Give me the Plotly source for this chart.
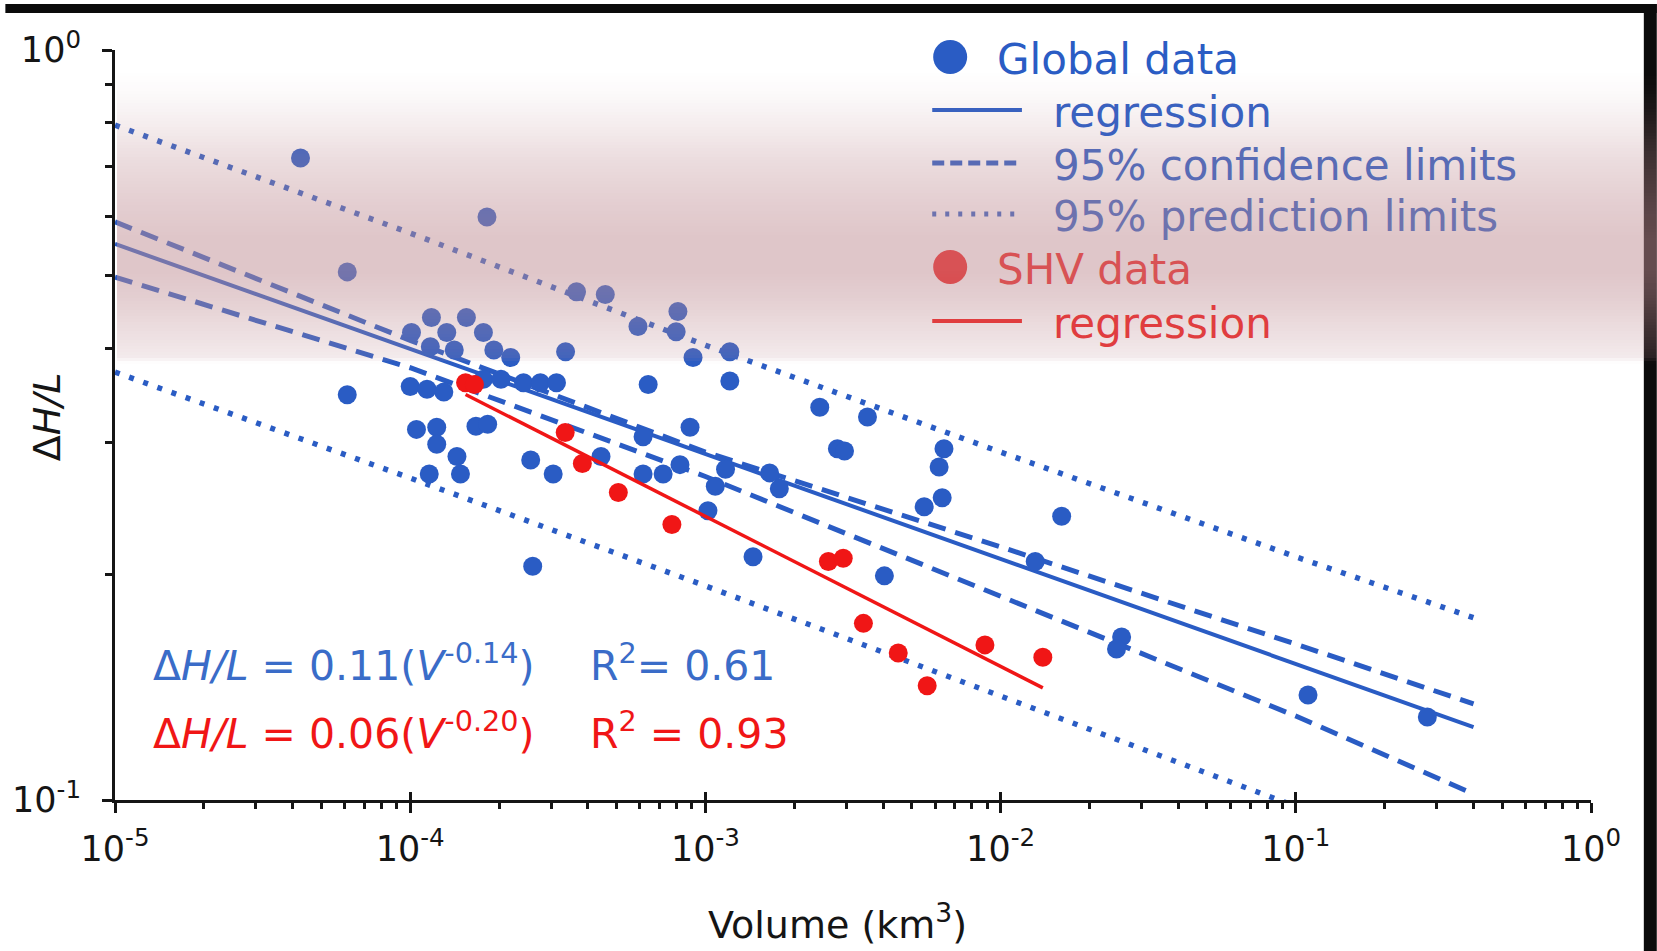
import numpy as np
import plotly.graph_objects as go

# ---------------------------------------------------------------------------
# Data: landslide volume (km^3) against travel-angle ratio ΔH/L
# ---------------------------------------------------------------------------
global_volume = [
    4.25e-5, 1.82e-4, 6.12e-5, 6.12e-5, 3.66e-4, 4.58e-4, 5.91e-4, 8.07e-4,
    7.96e-4, 3.36e-4, 9.08e-4, 1.21e-3, 6.40e-4, 1.21e-3, 2.44e-3, 3.54e-3,
    8.87e-4, 2.80e-3, 2.96e-3, 6.43e-3, 6.19e-3, 6.34e-3, 5.51e-3, 1.61e-2,
    1.31e-2, 4.04e-3, 1.45e-3, 2.60e-4, 1.02e-3, 2.57e-2, 2.47e-2, 0.110,
    0.279,
    1.18e-4, 1.55e-4, 1.01e-4, 1.33e-4, 1.77e-4, 1.17e-4, 1.41e-4, 1.92e-4,
    2.19e-4, 1.00e-4, 1.14e-4, 1.30e-4, 1.77e-4, 2.03e-4, 2.42e-4, 2.76e-4,
    3.13e-4, 1.05e-4, 1.23e-4, 1.23e-4, 1.67e-4, 1.83e-4, 1.44e-4, 1.48e-4,
    1.16e-4, 2.56e-4, 3.05e-4, 4.43e-4, 6.15e-4, 7.19e-4, 8.20e-4, 1.08e-3,
    1.17e-3, 1.65e-3, 1.78e-3, 6.15e-4,
]
global_ratio = [
    0.718, 0.599, 0.506, 0.347, 0.476, 0.472, 0.428, 0.448,
    0.421, 0.396, 0.389, 0.396, 0.358, 0.362, 0.334, 0.324,
    0.314, 0.294, 0.292, 0.294, 0.278, 0.253, 0.246, 0.239,
    0.208, 0.199, 0.211, 0.205, 0.243, 0.165, 0.159, 0.138,
    0.129,
    0.440, 0.440, 0.420, 0.420, 0.420, 0.402, 0.398, 0.398,
    0.389, 0.356, 0.353, 0.350, 0.364, 0.364, 0.360, 0.360,
    0.360, 0.312, 0.314, 0.298, 0.315, 0.317, 0.287, 0.272,
    0.272, 0.284, 0.272, 0.287, 0.272, 0.272, 0.280, 0.262,
    0.276, 0.273, 0.260, 0.305,
]

shv_volume = [1.54e-4, 1.65e-4, 3.35e-4, 3.83e-4, 5.07e-4, 7.70e-4, 2.61e-3,
              2.93e-3, 3.43e-3, 4.50e-3, 5.64e-3, 8.85e-3, 1.39e-2]
shv_ratio = [0.360, 0.358, 0.309, 0.281, 0.257, 0.233, 0.208,
             0.210, 0.172, 0.157, 0.142, 0.161, 0.155]

# Power-law fits ΔH/L = a * V^b
global_coef, global_exp, global_r2 = 0.11, -0.14, 0.61
shv_coef, shv_exp, shv_r2 = 0.06, -0.20, 0.93

# 95 % confidence / prediction limits of the global fit
limit_volume = [1e-5, 1e-4, 1e-3, 1e-2, 1e-1, 0.40]
conf_upper = [0.590, 0.410, 0.291, 0.2175, 0.1614, 0.1343]
conf_lower = [0.498, 0.377, 0.270, 0.187, 0.1294, 0.1019]
pred_upper = [0.794, 0.570, 0.404, 0.291, 0.211, 0.175]
pred_lower = [0.372, 0.2687, 0.193, 0.1376, 0.0979, 0.080]

x_decades = [1e-5, 1e-4, 1e-3, 1e-2, 1e-1, 1e0]
x_ticktext = ["10<sup>-5</sup>", "10<sup>-4</sup>", "10<sup>-3</sup>",
              "10<sup>-2</sup>", "10<sup>-1</sup>", "10<sup>0</sup>"]
y_decades = [1e-1, 1e0]
y_ticktext = ["10<sup>-1</sup>", "10<sup>0</sup>"]

# ---------------------------------------------------------------------------
# Styling
# ---------------------------------------------------------------------------
FONT = "DejaVu Sans"
W, H = 1657, 951
ML, MR, MT, MB = 110, 66, 50, 151
PW, PH = W - ML - MR, H - MT - MB
BLUE = (42, 92, 196)
RED = (240, 22, 22)
INK = "#151515"


def rgb(c):
    return "rgb(%d,%d,%d)" % c


def px_x(x):
    return (x - ML) / PW


def px_y(y):
    return (H - MB - y) / PH


# soft horizontal highlight band across the upper part of the figure
BAND_RGB = (191, 141, 147)
BAND_Y = [70, 92, 120, 160, 200, 238, 272, 300, 328, 348, 357, 363]
BAND_A = [0.0, 0.04, 0.14, 0.30, 0.42, 0.50, 0.50, 0.42, 0.30, 0.22, 0.18, 0.0]


def band_alpha(y):
    return float(np.interp(y, BAND_Y, BAND_A))


def faded(c, y):
    a = band_alpha(y)
    return "rgb(%d,%d,%d)" % tuple(round(a * b + (1 - a) * v) for b, v in zip(BAND_RGB, c))


minor_x = [k * d for d in x_decades[:-1] for k in range(2, 10)]
minor_y = [k * 0.1 for k in range(2, 10)]

fig = go.Figure()

line_blue = rgb(BLUE)
for ys in (pred_upper, pred_lower):
    fig.add_trace(go.Scatter(x=limit_volume, y=ys, mode="lines",
                             line=dict(color=line_blue, width=5.5, dash="5px,10px")))
for ys in (conf_upper, conf_lower):
    fig.add_trace(go.Scatter(x=limit_volume, y=ys, mode="lines",
                             line=dict(color=line_blue, width=5, dash="18px,10px")))

fit_x = [limit_volume[0], limit_volume[-1]]
fig.add_trace(go.Scatter(x=fit_x, y=[global_coef * v ** global_exp for v in fit_x],
                         mode="lines", line=dict(color=line_blue, width=4)))

fig.add_trace(go.Scatter(x=global_volume, y=global_ratio, mode="markers",
                         marker=dict(color=line_blue, size=19, line=dict(width=0))))

shv_x = [min(shv_volume), max(shv_volume)]
fig.add_trace(go.Scatter(x=shv_x, y=[shv_coef * v ** shv_exp for v in shv_x],
                         mode="lines", line=dict(color=rgb(RED), width=3.5)))
fig.add_trace(go.Scatter(x=shv_volume, y=shv_ratio, mode="markers",
                         marker=dict(color=rgb(RED), size=19, line=dict(width=0))))

# companion axis carrying the inward half of the major x ticks
fig.add_trace(go.Scatter(x=[], y=[], xaxis="x2", showlegend=False))

shapes = []
annotations = []

# frame strips at the top and right edge
shapes.append(dict(type="rect", xref="paper", yref="paper", layer="below",
                   x0=px_x(0), x1=px_x(W), y0=px_y(4), y1=px_y(13),
                   fillcolor="#0b0b0b", line=dict(width=0)))
shapes.append(dict(type="rect", xref="paper", yref="paper", layer="below",
                   x0=px_x(1644), x1=px_x(W), y0=px_y(4), y1=px_y(H),
                   fillcolor="#0b0b0b", line=dict(width=0)))

# hand-built legend
leg_line_x0, leg_line_x1 = 930, 1020
leg_dot_x = 948
leg_text_x_dot = 993
leg_text_x_line = 1049
rows = [
    ("marker", BLUE, None, "Global data", 57),
    ("line", BLUE, "solid", "regression", 110),
    ("line", BLUE, "12px,6px", "95% confidence limits", 163),
    ("line", BLUE, "4px,9px", "95% prediction limits", 214),
    ("marker", RED, None, "SHV data", 267),
    ("line", RED, "solid", "regression", 321),
]
for kind, col, dash, label, yy in rows:
    if kind == "marker":
        shapes.append(dict(type="circle", xref="paper", yref="paper", layer="below",
                           xsizemode="pixel", ysizemode="pixel",
                           xanchor=px_x(leg_dot_x), yanchor=px_y(yy),
                           x0=-17, x1=17, y0=-17, y1=17,
                           fillcolor=rgb(col), line=dict(width=0)))
        tx = leg_text_x_dot
    else:
        shapes.append(dict(type="line", xref="paper", yref="paper", layer="below",
                           x0=px_x(leg_line_x0), x1=px_x(leg_line_x1),
                           y0=px_y(yy), y1=px_y(yy),
                           line=dict(color=rgb(col), width=4 if dash == "solid" else 5,
                                     dash=dash)))
        tx = leg_text_x_line
    annotations.append(dict(xref="paper", yref="paper", x=px_x(tx), y=px_y(yy + 2),
                            xanchor="left", yanchor="middle", showarrow=False,
                            text=label, font=dict(family=FONT, size=42,
                                                  color=faded(col, yy))))

# highlight band, stacked thin strips drawn above the data
for y0 in range(BAND_Y[0], BAND_Y[-1], 3):
    a = band_alpha(y0 + 1.5)
    if a <= 0:
        continue
    shapes.append(dict(type="rect", xref="paper", yref="paper", layer="above",
                       x0=px_x(112), x1=px_x(W), y0=px_y(y0), y1=px_y(y0 + 3),
                       fillcolor="rgba(%d,%d,%d,%.3f)" % (BAND_RGB + (a,)),
                       line=dict(width=0)))

# fit equations
eq_font = dict(family=FONT, size=41)
annotations += [
    dict(xref="paper", yref="paper", x=px_x(146), y=px_y(663), xanchor="left",
         yanchor="middle", showarrow=False,
         text="Δ<i>H/L</i> = %.2f(<i>V</i><sup>%.2f</sup>)" % (global_coef, global_exp),
         font=dict(eq_font, color=rgb((58, 108, 200)))),
    dict(xref="paper", yref="paper", x=px_x(585), y=px_y(663), xanchor="left",
         yanchor="middle", showarrow=False,
         text="R<sup>2</sup>= %.2f" % global_r2,
         font=dict(eq_font, color=rgb((58, 108, 200)))),
    dict(xref="paper", yref="paper", x=px_x(146), y=px_y(731), xanchor="left",
         yanchor="middle", showarrow=False,
         text="Δ<i>H/L</i> = %.2f(<i>V</i><sup>%.2f</sup>)" % (shv_coef, shv_exp),
         font=dict(eq_font, color=rgb(RED))),
    dict(xref="paper", yref="paper", x=px_x(585), y=px_y(731), xanchor="left",
         yanchor="middle", showarrow=False,
         text="R<sup>2</sup> = %.2f" % shv_r2,
         font=dict(eq_font, color=rgb(RED))),
]

# axis titles
annotations += [
    dict(xref="paper", yref="paper", x=px_x(835), y=px_y(922), xanchor="center",
         yanchor="middle", showarrow=False, text="Volume (km<sup>3</sup>)",
         font=dict(family=FONT, size=38, color=INK)),
    dict(xref="paper", yref="paper", x=px_x(42), y=px_y(417), xanchor="center",
         yanchor="middle", showarrow=False, text="Δ<i>H/L</i>", textangle=-90,
         font=dict(family=FONT, size=38, color=INK)),
]

axis_common = dict(showgrid=False, zeroline=False, showline=True, linecolor=INK,
                   linewidth=3, ticks="outside", ticklen=10, tickwidth=3,
                   tickcolor=INK, tickfont=dict(family=FONT, size=35, color=INK))

fig.update_layout(
    width=W, height=H,
    margin=dict(l=ML, r=MR, t=MT, b=MB, pad=0),
    paper_bgcolor="white", plot_bgcolor="white",
    showlegend=False,
    font=dict(family=FONT, color=INK),
    xaxis=dict(axis_common, type="log", range=[-5, 0], tickmode="array",
               tickvals=x_decades, ticktext=x_ticktext, ticklabelstandoff=6,
               minor=dict(tickmode="array", tickvals=minor_x, ticks="outside",
                          ticklen=6, tickwidth=2.5, tickcolor=INK, showgrid=False)),
    xaxis2=dict(type="log", range=[-5, 0], overlaying="x", anchor="y", side="bottom",
                showgrid=False, zeroline=False, showline=False, showticklabels=False,
                tickmode="array", tickvals=x_decades, ticks="inside", ticklen=8,
                tickwidth=3, tickcolor=INK),
    yaxis=dict(axis_common, type="log", range=[-1, 0], tickmode="array",
               tickvals=y_decades, ticktext=y_ticktext, ticklabelstandoff=14,
               minor=dict(tickmode="array", tickvals=minor_y, ticks="outside",
                          ticklen=7, tickwidth=2.5, tickcolor=INK, showgrid=False)),
    shapes=shapes,
    annotations=annotations,
)

fig.write_html("out.html")
